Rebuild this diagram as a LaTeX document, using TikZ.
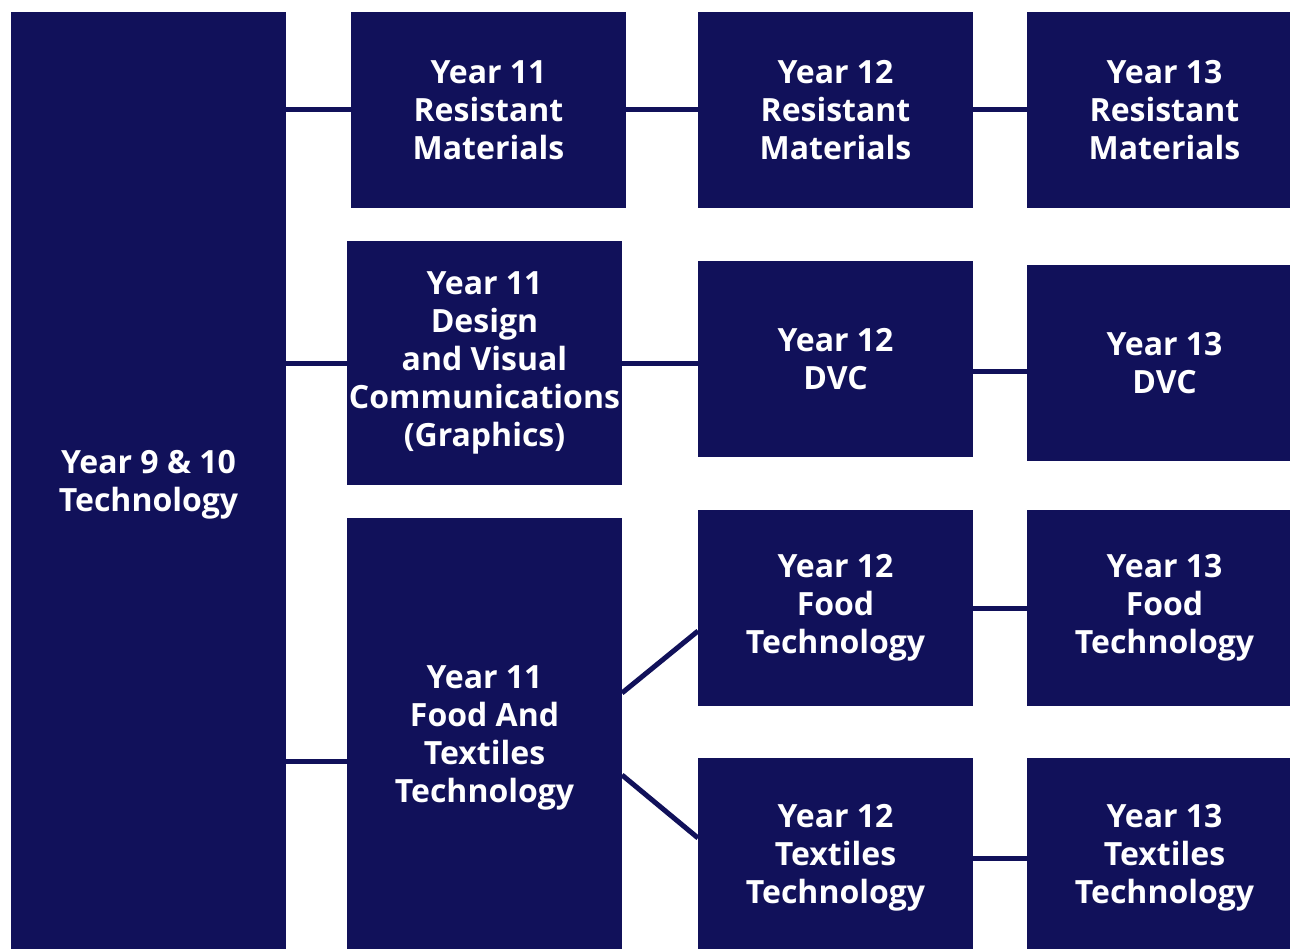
\documentclass[tikz,border=0pt]{standalone}
\usepackage{fontspec}
\setmainfont{Open Sans}
\usetikzlibrary{positioning,calc}
\definecolor{navy}{RGB}{17,17,90}

\tikzset{
	yearbox/.style={rectangle, fill=navy, text=white, inner sep=0pt, outer sep=0pt, align=center,
		font=\bfseries\fontsize{24}{28.5}\selectfont, minimum width=206.25pt},
	link/.style={draw=navy, line width=3.75pt}
}

\begin{document}
\begin{tikzpicture}[x=0.75pt, y=-0.75pt]
		\clip (0,0) rectangle (1290,949);
		% first column
		\node[yearbox, minimum height=709.5pt] (tech) at (148.5,485) {Year 9 \& 10\\Technology};
		% year 11
		\node[yearbox, minimum height=147pt] (rm11) at (488.5,110) {Year 11\\Resistant\\Materials};
		\node[yearbox, minimum height=183pt] (dvc11) at (484.5,363) {Year 11\\Design\\and Visual\\Communications\\(Graphics)};
		\node[yearbox, minimum height=330pt] (fat11) at (484.5,738) {Year 11\\Food And\\Textiles\\Technology};
		% year 12
		\node[yearbox, minimum height=147pt] (rm12) at (835.5,110) {Year 12\\Resistant\\Materials};
		\node[yearbox, minimum height=147pt] (dvc12) at (835.5,359) {Year 12\\DVC};
		\node[yearbox, minimum height=147pt] (food12) at (835.5,608) {Year 12\\Food\\Technology};
		\node[yearbox, minimum height=150pt] (tex12) at (835.5,858) {Year 12\\Textiles\\Technology};
		% year 13
		\node[yearbox, minimum height=147pt] (rm13) at (1164.5,110) {Year 13\\Resistant\\Materials};
		\node[yearbox, minimum height=147pt] (dvc13) at (1164.5,363) {Year 13\\DVC};
		\node[yearbox, minimum height=147pt] (food13) at (1164.5,608) {Year 13\\Food\\Technology};
		\node[yearbox, minimum height=150pt] (tex13) at (1164.5,858) {Year 13\\Textiles\\Technology};
		
		\coordinate (c3) at ($(fat11.west)+(0,23)$);
		
		\draw[link] (tech.east |- rm11.west) -- (rm11.west);
		\draw[link] (tech.east |- dvc11.west) -- (dvc11.west);
		\draw[link] (tech.east |- c3) -- (c3);
		
		\draw[link] (rm11) -- (rm12);
		\draw[link] (dvc11.east) -- (dvc11.east -| dvc12.west);
		\draw[link] ($(fat11.east)+(0,-45)$) -- ($(food12.west)+(0,23)$);
		\draw[link] ($(fat11.east)+(0,37)$) -- ($(tex12.west)+(0,-20)$);
		
		\draw[link] (rm12) -- (rm13);
		\draw[link] ($(dvc12.east)+(0,12)$) -- ($(dvc13.west)+(0,8)$);
		\draw[link] (food12) -- (food13);
		\draw[link] (tex12) -- (tex13);
	\end{tikzpicture}
\end{document}
